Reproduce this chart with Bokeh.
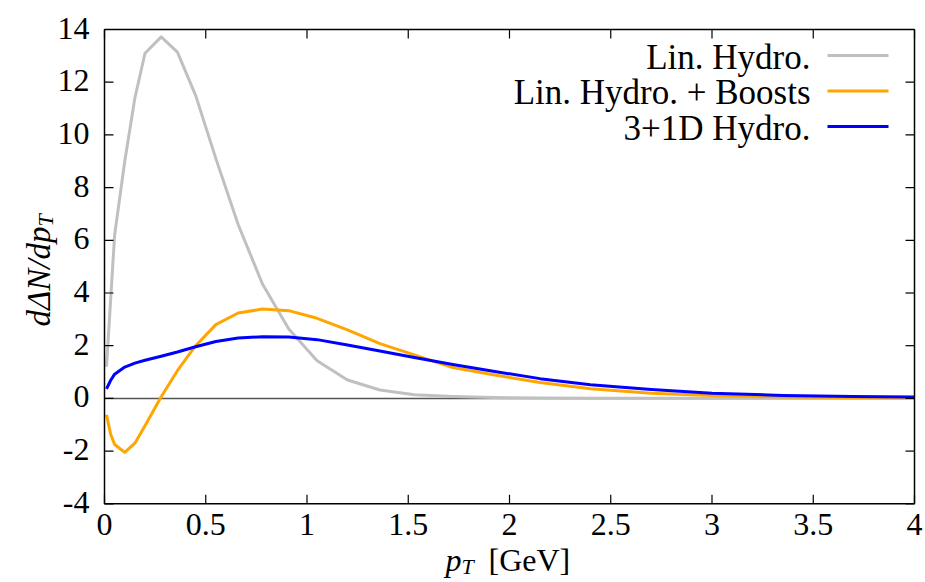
import math
from bokeh.plotting import figure
from bokeh.models import Range1d
from bokeh.core.properties import value
from bokeh.embed import file_html
from bokeh.resources import INLINE

# ---------------- data ----------------
pt = [0.01, 0.03, 0.05, 0.10, 0.15, 0.20, 0.28, 0.36, 0.45, 0.55, 0.66, 0.78,
      0.91, 1.05, 1.20, 1.36, 1.53, 1.72, 1.92, 2.15, 2.40, 2.70, 3.00, 3.35,
      3.70, 4.00]
lin_hydro = [1.2, 3.7, 6.2, 9.0, 11.4, 13.1, 13.72, 13.14, 11.5, 9.1, 6.6, 4.34,
             2.63, 1.43, 0.70, 0.32, 0.14, 0.07, 0.03, 0.015, 0.008, 0.005,
             0.002, 0.001, 0.0, 0.0]
lin_hydro_boosts = [-0.62, -1.35, -1.75, -2.05, -1.70, -1.04, 0.06, 1.05, 2.0,
                    2.8, 3.24, 3.39, 3.33, 3.04, 2.6, 2.08, 1.65, 1.17, 0.9,
                    0.6, 0.37, 0.2, 0.11, 0.05, 0.03, 0.02]
hydro_3p1d = [0.36, 0.68, 0.92, 1.19, 1.34, 1.45, 1.6, 1.76, 1.96, 2.16, 2.29,
              2.34, 2.33, 2.23, 2.03, 1.80, 1.55, 1.29, 1.03, 0.75, 0.52, 0.34,
              0.20, 0.11, 0.07, 0.05]

series_names = ["Lin. Hydro.", "Lin. Hydro. + Boosts", "3+1D Hydro."]
series_values = [lin_hydro, lin_hydro_boosts, hydro_3p1d]
series_colors = ["#c0c0c0", "#ffa500", "#0000ff"]

x_ticks = [0, 0.5, 1, 1.5, 2, 2.5, 3, 3.5, 4]
x_tick_labels = ["0", "0.5", "1", "1.5", "2", "2.5", "3", "3.5", "4"]
y_ticks = [-4, -2, 0, 2, 4, 6, 8, 10, 12, 14]
y_tick_labels = ["-4", "-2", "0", "2", "4", "6", "8", "10", "12", "14"]

# ---------------- layout (pixels) ----------------
W, H = 925, 582
XMIN, XMAX, YMIN, YMAX = 0, 4, -4, 14
FL, FR, FT, FB = 104, 914, 29, 503.3          # frame edges in pixels
SX = (FR - FL) / (XMAX - XMIN)                # px per x unit
SY = (FB - FT) / (YMAX - YMIN)                # px per y unit

def dx(px):            # horizontal pixel position -> data x
    return XMIN + (px - FL) / SX

def dy(py):            # vertical pixel position -> data y
    return YMAX - (py - FT) / SY

FONT = value("Liberation Serif")
FS = value("32px")
FS_SUB = value("22px")
TICK = 9

p = figure(width=W, height=H, output_backend="svg", toolbar_location=None,
           x_range=Range1d(dx(0), dx(W)), y_range=Range1d(dy(H), dy(0)),
           x_axis_location=None, y_axis_location=None,
           min_border=0, min_border_left=0, min_border_right=0,
           min_border_top=0, min_border_bottom=0)
p.grid.visible = False
p.outline_line_color = None
p.background_fill_color = "white"
p.border_fill_color = "white"

# zero line
p.segment(x0=[XMIN], y0=[0], x1=[XMAX], y1=[0], line_color="#555555",
          line_width=1.5)

# curves
for vals, col in zip(series_values, series_colors):
    p.line(pt, vals, line_color=col, line_width=3, line_join="round")

# frame box
p.quad(left=[XMIN], right=[XMAX], bottom=[YMIN], top=[YMAX], fill_color=None,
       line_color="black", line_width=1.5)

# inward ticks on all four sides
nx, ny = len(x_ticks), len(y_ticks)
tly = TICK / SY
tlx = TICK / SX
p.segment(x0=x_ticks, y0=[YMIN] * nx, x1=x_ticks, y1=[YMIN + tly] * nx,
          line_color="black", line_width=1.2)
p.segment(x0=x_ticks, y0=[YMAX] * nx, x1=x_ticks, y1=[YMAX - tly] * nx,
          line_color="black", line_width=1.2)
p.segment(x0=[XMIN] * ny, y0=y_ticks, x1=[XMIN + tlx] * ny, y1=y_ticks,
          line_color="black", line_width=1.2)
p.segment(x0=[XMAX] * ny, y0=y_ticks, x1=[XMAX - tlx] * ny, y1=y_ticks,
          line_color="black", line_width=1.2)

# tick labels
p.text(x=x_ticks, y=[YMIN - (524 - FB) / SY] * nx, text=x_tick_labels,
       text_font=FONT, text_font_size=FS, text_align="center",
       text_baseline="middle", text_color="black")
p.text(x=[dx(89)] * ny, y=[t + 1.5 / SY for t in y_ticks], text=y_tick_labels,
       text_font=FONT, text_font_size=FS, text_align="right",
       text_baseline="middle", text_color="black")

# ---------------- legend (text left of sample line) ----------------
leg_rows = [dy(55), dy(90.5), dy(126)]
for name, col, yy in zip(series_names, series_colors, leg_rows):
    p.segment(x0=[dx(827)], y0=[yy], x1=[dx(888)], y1=[yy], line_color=col,
              line_width=3)
    p.text(x=[dx(810)], y=[yy - 1.5 / SY], text=[name], text_font=FONT,
           text_font_size=value("35px"), text_align="right",
           text_baseline="middle", text_color="black")

# ---------------- axis titles ----------------
# x: p_T [GeV]
p.text(x=[dx(461)], y=[dy(559)], text=["p"], text_font=FONT,
       text_font_size=FS, text_font_style="italic", text_align="right",
       text_baseline="middle", text_color="black")
p.text(x=[dx(461)], y=[dy(566)], text=["T"], text_font=FONT,
       text_font_size=FS_SUB, text_font_style="italic", text_align="left",
       text_baseline="middle", text_color="black")
p.text(x=[dx(488)], y=[dy(559)], text=["[GeV]"], text_font=FONT,
       text_font_size=FS, text_align="left", text_baseline="middle",
       text_color="black")

# y: dΔN/dp_T (rotated)
p.text(x=[dx(38)], y=[dy(226)], text=["d\u0394N/dp"], text_font=FONT,
       text_font_size=value("33px"), text_font_style="italic",
       text_align="right", text_baseline="middle", angle=math.pi / 2,
       text_color="black")
p.text(x=[dx(45)], y=[dy(226)], text=["T"], text_font=FONT,
       text_font_size=FS_SUB, text_font_style="italic", text_align="left",
       text_baseline="middle", angle=math.pi / 2, text_color="black")

open("out.html", "w").write(file_html(p, INLINE))
